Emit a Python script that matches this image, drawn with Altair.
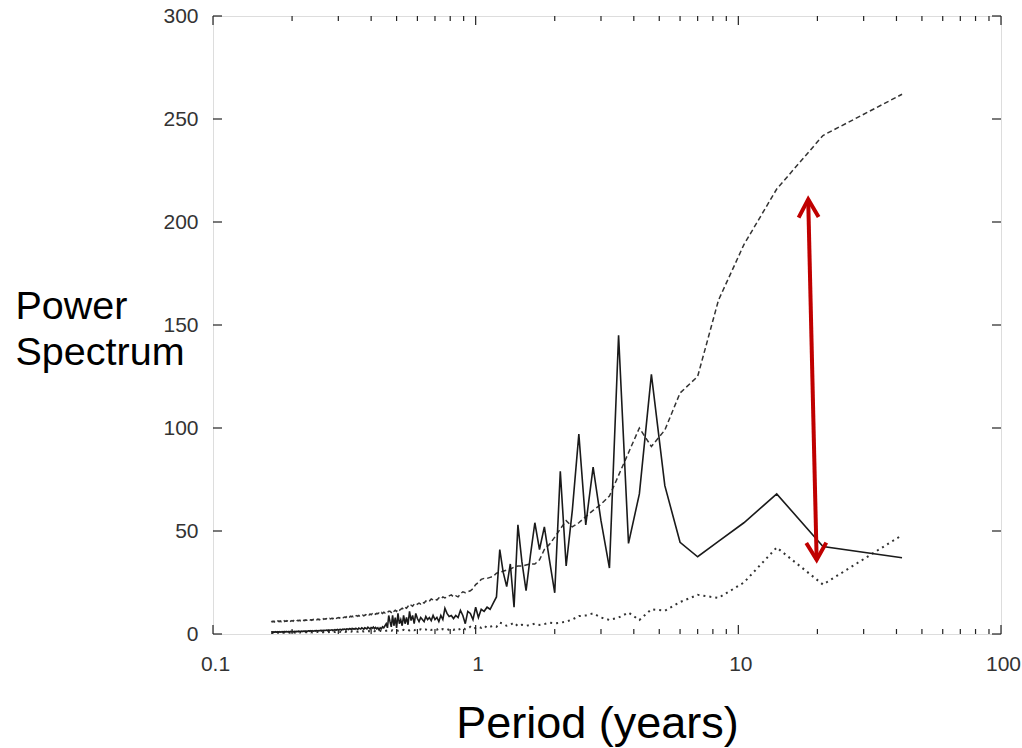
import altair as alt
import pandas as pd

# Periodogram of a 42-year monthly record: Fourier periods 42/k years, k = 1..252
RECORD_YEARS = 42
harmonics = list(range(1, 253))

# Observed spectrum (solid line)
observed = [
    37, 42.5, 68, 54, 45, 37.5, 44.5, 72, 126, 68,
    44, 145, 32, 55, 81, 53, 97, 60, 33, 79,
    20, 36, 52, 41, 54, 38, 21, 35, 53, 13,
    34, 23, 30, 41, 18, 15, 12, 13, 11, 12,
    8, 13, 7, 10, 11, 5, 9, 11.5, 8, 9,
    7.5, 9, 8.5, 10, 12.5, 7, 9, 6, 8, 7,
    9, 6.5, 8, 7, 8.5, 6, 7, 8, 6, 7.5,
    10, 5, 9, 6.5, 11, 4.5, 8, 5, 9, 4,
    7, 5, 10, 3, 8, 4, 9, 3.5, 6, 9,
    3, 5, 4, 3, 3.5, 2.5, 3, 2, 3, 2.5,
    3.2, 2.6, 3.4, 2.8, 3.1, 2.4, 2.9, 3.3, 2.5, 2.8, 3.0, 2.3, 2.7, 3.0, 2.4, 2.6, 2.9, 2.2, 2.5, 2.8,
    2.3, 2.6, 2.4, 2.7, 2.1, 2.5, 2.6, 2.2, 2.4, 2.5, 2.0, 2.3, 2.4, 2.1, 2.3, 1.9, 2.2, 2.3, 2.0, 2.1,
    2.2, 1.9, 2.1, 1.8, 2.1, 1.9, 1.7, 2.0, 1.9, 1.8, 1.9, 1.7, 1.9, 1.6, 1.9, 1.8, 1.7, 1.8, 1.6, 1.8,
    1.7, 1.5, 1.8, 1.6, 1.7, 1.5, 1.7, 1.6, 1.5, 1.7, 1.4, 1.6, 1.5, 1.4, 1.6, 1.4, 1.5, 1.4, 1.6, 1.3,
    1.5, 1.5, 1.3, 1.4, 1.3, 1.5, 1.3, 1.4, 1.2, 1.4, 1.3, 1.2, 1.4, 1.3, 1.2, 1.3, 1.2, 1.4, 1.1, 1.3,
    1.2, 1.3, 1.1, 1.2, 1.3, 1.1, 1.2, 1.0, 1.3, 1.1, 1.2, 1.0, 1.2, 1.1, 1.0, 1.2, 1.1, 1.0, 1.1, 1.2,
    1.0, 1.1, 1.0, 1.2, 0.9, 1.1, 1.0, 1.1, 0.9, 1.0, 1.1, 0.9, 1.0, 1.1, 0.9, 1.0, 0.9, 1.1, 1.0, 0.9,
    1.0, 0.9, 1.1, 0.9, 1.0, 0.9, 1.0, 0.8, 1.0, 0.9, 1.0, 0.9,
]

# Upper reference spectrum (dashed line)
upper = [
    262, 242, 216, 189, 162, 125, 117, 99, 91, 100,
    88, 77, 67, 63, 60, 57, 54, 52, 55, 51,
    47, 43.5, 41, 36, 34, 34, 33.5, 33, 33, 32.5,
    31.5, 31, 30.5, 30, 29.5, 28, 27.5, 27, 27, 26.5,
    25, 24, 22, 21, 20.5, 20, 20.5, 19.5, 18, 18.5,
    18, 19, 18.5, 18, 17.5, 18, 17, 17.5, 16.5, 17,
    16.5, 17, 16, 15.5, 16, 15, 15.5, 14.5, 15, 14.5,
    14, 14.5, 13.5, 14, 13, 13.5, 12.5, 13, 12, 12.5,
    12, 11.5, 12, 11, 11.5, 11, 11.5, 10.5, 11, 11,
    10.5, 10.8, 10.2, 10.6, 10, 10.4, 9.8, 10.2, 9.9, 10,
    9.6, 10, 9.4, 9.8, 9.3, 9.7, 9.2, 9.5, 9.0, 9.4, 9.1, 8.8, 9.2, 8.9, 9.1, 8.7, 9.0, 8.6, 8.9, 8.8,
    8.5, 8.8, 8.4, 8.7, 8.3, 8.6, 8.2, 8.5, 8.1, 8.4, 8.0, 8.3, 8.1, 7.9, 8.2, 7.8, 8.1, 7.9, 7.7, 8.0,
    7.8, 7.6, 7.9, 7.5, 7.8, 7.6, 7.4, 7.7, 7.5, 7.3, 7.6, 7.4, 7.6, 7.3, 7.5, 7.2, 7.4, 7.3, 7.1, 7.4,
    7.2, 7.0, 7.3, 7.1, 6.9, 7.2, 7.0, 7.2, 6.9, 7.1, 6.8, 7.0, 6.9, 7.1, 6.8, 7.0, 6.7, 6.9, 6.8, 7.0,
    6.8, 6.6, 6.9, 6.7, 6.8, 6.6, 6.8, 6.5, 6.7, 6.6, 6.8, 6.5, 6.7, 6.6, 6.4, 6.7, 6.5, 6.6, 6.4, 6.6,
    6.5, 6.3, 6.6, 6.4, 6.5, 6.3, 6.5, 6.2, 6.4, 6.5, 6.3, 6.4, 6.2, 6.4, 6.3, 6.5, 6.2, 6.4, 6.3, 6.2,
    6.4, 6.2, 6.3, 6.1, 6.4, 6.2, 6.3, 6.1, 6.3, 6.2, 6.0, 6.3, 6.1, 6.2, 6.0, 6.2, 6.1, 6.3, 6.0, 6.2,
    6.1, 6.0, 6.2, 6.1, 5.9, 6.2, 6.0, 6.1, 5.9, 6.1, 6.0, 6.2,
]

# Lower reference spectrum (dotted line)
lower = [
    48, 24, 42, 25, 17.5, 19, 15.5, 11.3, 12, 6.8,
    10.4, 8, 6.8, 8, 10, 9, 8.7, 7, 6, 5.5,
    5.2, 5.5, 4.8, 4.4, 5, 4.4, 4, 4.5, 3.8, 5.5,
    4.5, 4, 5, 5.5, 3.5, 4, 3.5, 3, 4, 3,
    3.5, 3, 2.5, 3.5, 2.5, 2.3, 3, 2.5, 2, 2.5,
    2, 2.3, 2, 2.5, 2.2, 2.4, 2.0, 2.6, 2.1, 2.3,
    2.2, 2.0, 2.4, 1.9, 2.2, 2.1, 1.8, 2.3, 2.0, 1.9, 2.2, 1.8, 2.0, 2.1, 1.7, 2.0, 1.9, 1.7, 2.0, 1.8,
    1.7, 1.9, 1.6, 1.8, 1.7, 1.5, 1.8, 1.6, 1.7, 1.5, 1.7, 1.6, 1.4, 1.6, 1.5, 1.4, 1.6, 1.3, 1.5, 1.4,
    1.4, 1.3, 1.5, 1.3, 1.4, 1.2, 1.4, 1.3, 1.2, 1.4, 1.3, 1.2, 1.3, 1.1, 1.3, 1.2, 1.3, 1.1, 1.2, 1.3,
    1.2, 1.1, 1.2, 1.3, 1.1, 1.2, 1.1, 1.2, 1.0, 1.2, 1.1, 1.0, 1.2, 1.1, 1.0, 1.1, 1.2, 1.0, 1.1, 1.0,
    1.1, 1.0, 1.1, 0.9, 1.1, 1.0, 1.0, 1.1, 0.9, 1.0, 1.1, 0.9, 1.0, 0.9, 1.0, 1.0, 0.9, 1.0, 0.9, 1.0,
    0.9, 1.0, 0.9, 0.9, 1.0, 0.8, 0.9, 1.0, 0.9, 0.8, 0.9, 1.0, 0.8, 0.9, 0.9, 0.8, 0.9, 0.8, 0.9, 0.9,
    0.8, 0.9, 0.8, 0.9, 0.8, 0.8, 0.9, 0.8, 0.7, 0.9, 0.8, 0.8, 0.7, 0.8, 0.9, 0.7, 0.8, 0.8, 0.7, 0.8,
    0.8, 0.7, 0.8, 0.7, 0.8, 0.7, 0.8, 0.7, 0.7, 0.8, 0.7, 0.7, 0.8, 0.6, 0.7, 0.8, 0.7, 0.6, 0.7, 0.7,
    0.7, 0.6, 0.7, 0.7, 0.6, 0.7, 0.6, 0.7, 0.7, 0.6, 0.7, 0.6, 0.6, 0.7, 0.6, 0.7, 0.6, 0.6, 0.7, 0.6,
    0.6, 0.7, 0.6, 0.6, 0.7, 0.6, 0.6, 0.5, 0.6, 0.6, 0.5, 0.6,
]

# Red double-headed arrow marking the gap between the spectra
arrow_period = [18.45, 19.87]
arrow_power = [211, 36]

x_major = [0.1, 1, 10, 100]
x_minor = [0.2, 0.3, 0.4, 0.5, 0.6, 0.7, 0.8, 0.9,
           2, 3, 4, 5, 6, 7, 8, 9,
           20, 30, 40, 50, 60, 70, 80, 90]
y_ticks = [0, 50, 100, 150, 200, 250, 300]

W, H = 788, 618
LABEL_FONT = "Liberation Sans Narrow, Liberation Sans, Arial"
INK = "#222222"

periods = [RECORD_YEARS / k for k in harmonics]
spec = pd.DataFrame({"period": periods, "observed": observed,
                     "upper": upper, "lower": lower})

x_scale = alt.Scale(type="log", domain=[0.1, 100])
y_scale = alt.Scale(domain=[0, 300], nice=False, zero=False)

x_enc = alt.X(
    "period:Q", scale=x_scale,
    axis=alt.Axis(
        values=x_major, format="~g", ticks=False, domain=False, grid=False,
        labelFont=LABEL_FONT, labelFontSize=21, labelColor="#333333",
        labelPadding=19, labelBaseline="top", labelOffset=2, labelFlush=False,
        title="Period (years)", titleFont="Liberation Sans", titleFontSize=45,
        titleFontWeight="normal", titleColor="black",
        titleX=384, titleY=103, titleAlign="center", titleBaseline="alphabetic",
    ),
)
y_axis = alt.Axis(
    values=y_ticks, ticks=False, domain=False, grid=False, labelFlush=False,
    labelFont=LABEL_FONT, labelFontSize=21, labelColor="#333333", labelPadding=15,
    title=["Power", "Spectrum"], titleFont="Liberation Sans", titleFontSize=39.5,
    titleFontWeight="normal", titleColor="black", titleAngle=0,
    titleAlign="left", titleBaseline="alphabetic", titleLineHeight=46,
    titleX=-198, titleY=302,
)

base = alt.Chart(spec)

upper_line = base.mark_line(color="#333333", strokeWidth=1.5, strokeDash=[5, 3]).encode(
    x=x_enc, y=alt.Y("upper:Q", scale=y_scale, axis=y_axis)
)
lower_line = base.mark_line(color="#333333", strokeWidth=2, strokeDash=[2, 4]).encode(
    x="period:Q", y="lower:Q"
)
observed_line = base.mark_line(color="#1a1a1a", strokeWidth=1.6).encode(
    x="period:Q", y="observed:Q"
)

# Inward-pointing tick marks on all four sides of the frame
xmaj = pd.DataFrame({"t": x_major})
xmin = pd.DataFrame({"t": x_minor})
yt = pd.DataFrame({"t": y_ticks})
tick_style = dict(color=INK, strokeWidth=1.2)


def xticks(df, y0, y1):
    return alt.Chart(df).mark_rule(**tick_style).encode(
        x=alt.X("t:Q", scale=x_scale), y=alt.value(y0), y2=alt.value(y1))


def yticks(x0, x1):
    return alt.Chart(yt).mark_rule(**tick_style).encode(
        y=alt.Y("t:Q", scale=y_scale), x=alt.value(x0), x2=alt.value(x1))


ticks = [
    xticks(xmaj, H, H - 9), xticks(xmin, H, H - 5),
    xticks(xmaj, 0, 9), xticks(xmin, 0, 5),
    yticks(0, 9), yticks(W, W - 9),
]

arrow_df = pd.DataFrame({
    "x": [arrow_period[0]], "y": [arrow_power[0]],
    "x2": [arrow_period[1]], "y2": [arrow_power[1]],
})
RED = "#c00000"
shaft = alt.Chart(arrow_df).mark_rule(color=RED, strokeWidth=4).encode(
    x=alt.X("x:Q", scale=x_scale), y=alt.Y("y:Q", scale=y_scale),
    x2="x2:Q", y2="y2:Q",
)
head_top = alt.Chart(pd.DataFrame({"x": [arrow_period[0]], "y": [arrow_power[0]]})).mark_point(
    shape="M -1 1.8 L 0 0 L 1 1.8", filled=False, stroke=RED, strokeWidth=4,
    size=400, angle=358.7, opacity=1, strokeJoin="miter",
).encode(x=alt.X("x:Q", scale=x_scale), y=alt.Y("y:Q", scale=y_scale))
head_bottom = alt.Chart(pd.DataFrame({"x": [arrow_period[1]], "y": [arrow_power[1]]})).mark_point(
    shape="M -1 -1.7 L 0 0 L 1 -1.7", filled=False, stroke=RED, strokeWidth=4,
    size=400, angle=358.7, opacity=1, strokeJoin="miter",
).encode(x=alt.X("x:Q", scale=x_scale), y=alt.Y("y:Q", scale=y_scale))

chart = alt.layer(
    upper_line, lower_line, observed_line, *ticks, shaft, head_top, head_bottom
).properties(
    width=W, height=H,
    autosize=alt.AutoSizeParams(type="none"),
    padding={"left": 213, "top": 16, "right": 21, "bottom": 114},
).configure_view(
    stroke=INK, strokeWidth=1.3
).configure(background="white")

chart.save("out.html", embed_options={"renderer": "svg", "actions": False})
